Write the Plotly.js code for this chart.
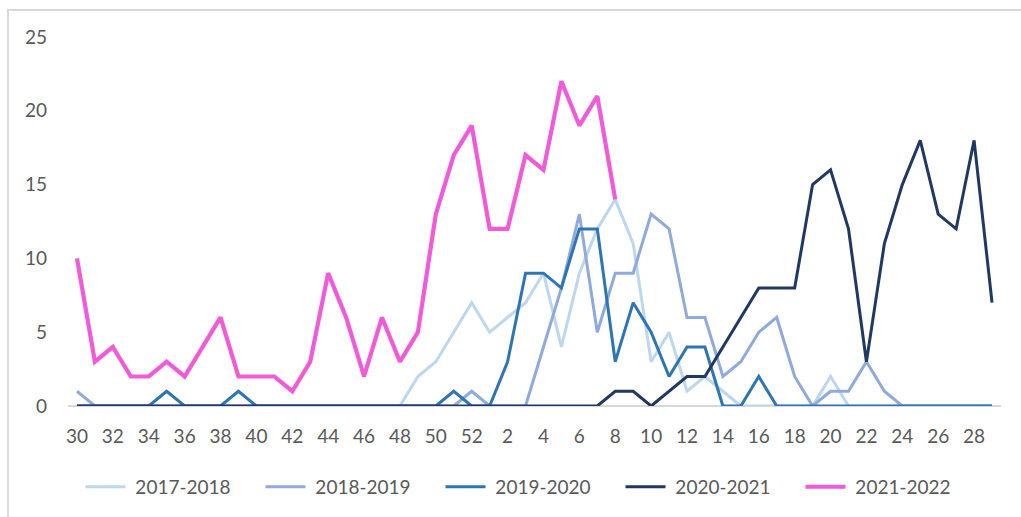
<!DOCTYPE html>
<html>
<head>
<meta charset="utf-8">
<script src="https://cdn.plot.ly/plotly-3.0.1.min.js"></script>
<style>
  html, body { margin: 0; padding: 0; background: #ffffff; }
  #chart { width: 1021px; height: 517px; position: relative; }
  #frame { position: absolute; left: 7px; top: 9px; width: 1100px; height: 600px;
           border-left: 2px solid #d9d9d9; border-top: 2px solid #d9d9d9; pointer-events: none; }
</style>
</head>
<body>
<div style="position:relative;width:1021px;height:517px;overflow:hidden;">
  <div id="chart"></div>
  <div id="frame"></div>
</div>
<script>
// Week categories (season runs week 30 to week 29 of next year)
const weeks = ["30","31","32","33","34","35","36","37","38","39","40","41","42","43","44","45","46","47","48","49","50","51","52",
               "1","2","3","4","5","6","7","8","9","10","11","12","13","14","15","16","17","18","19","20","21","22","23","24","25","26","27","28","29"];
const tickLabels = ["30","32","34","36","38","40","42","44","46","48","50","52","2","4","6","8","10","12","14","16","18","20","22","24","26","28"];

const s2017_2018 = [0,0,0,0,0,0,0,0,0,0,0,0,0,0,0,0,0,0,0,2,3,5,7,
                    5,6,7,9,4,9,12,14,11,3,5,1,2,1,0,0,0,0,0,2,0,0,0,0,0,0,0,0,0];
const s2018_2019 = [1,0,0,0,0,0,0,0,0,0,0,0,0,0,0,0,0,0,0,0,0,0,1,
                    0,0,0,4,8,13,5,9,9,13,12,6,6,2,3,5,6,2,0,1,1,3,1,0,0,0,0,0,0];
const s2019_2020 = [0,0,0,0,0,1,0,0,0,1,0,0,0,0,0,0,0,0,0,0,0,1,0,
                    0,3,9,9,8,12,12,3,7,5,2,4,4,0,0,2,0,0,0,0,0,0,0,0,0,0,0,0,0];
const s2020_2021 = [0,0,0,0,0,0,0,0,0,0,0,0,0,0,0,0,0,0,0,0,0,0,0,
                    0,0,0,0,0,0,0,1,1,0,1,2,2,4,6,8,8,8,15,16,12,3,11,15,18,13,12,18,7];
const s2021_2022 = [10,3,4,2,2,3,2,4,6,2,2,2,1,3,9,6,2,6,3,5,13,17,19,
                    12,12,17,16,22,19,21,14];

const seriesNames = ["2017-2018","2018-2019","2019-2020","2020-2021","2021-2022"];
const seriesData = [s2017_2018, s2018_2019, s2019_2020, s2020_2021, s2021_2022];
const colors = ["#bdd7ee","#8faadc","#2e75b6","#203864","#f25bd8"];
const widths = [3, 3, 3, 3, 4.2];

const traces = seriesData.map((vals, i) => ({
  type: "scatter",
  mode: "lines",
  name: "\u00a0" + seriesNames[i],
  x: weeks.slice(0, vals.length),
  y: vals,
  line: { color: colors[i], width: widths[i] },
  hoverinfo: "x+y+name"
}));

const layout = {
  width: 1021, height: 517,
  margin: { l: 68, r: 20, t: 37, b: 110 },
  paper_bgcolor: "#ffffff",
  plot_bgcolor: "#ffffff",
  font: { family: "Lato, 'Open Sans', sans-serif", size: 19, color: "#595959" },
  showlegend: true,
  legend: {
    orientation: "h",
    x: 0.0134, xanchor: "left",
    y: -0.216, yanchor: "middle",
    font: { size: 19, color: "#595959" },
    entrywidth: 125, entrywidthmode: "pixels",
    itemwidth: 40
  },
  xaxis: {
    type: "category",
    categoryorder: "array",
    categoryarray: weeks,
    range: [-0.5, 51.5],
    tickmode: "array",
    tickvals: tickLabels,
    ticktext: tickLabels,
    showgrid: false,
    zeroline: false,
    showline: false,
    ticks: "",
    ticklabelstandoff: 17,
    tickfont: { size: 19, color: "#595959" }
  },
  yaxis: {
    range: [0, 25],
    tickvals: [0,5,10,15,20,25],
    showgrid: false,
    zeroline: true,
    zerolinecolor: "#d9d9d9",
    zerolinewidth: 1.5,
    showline: false,
    ticks: "",
    ticklabelstandoff: 20,
    tickfont: { size: 19, color: "#595959" }
  }
};

Plotly.newPlot("chart", traces, layout, { displayModeBar: false, staticPlot: true });
</script>
</body>
</html>
